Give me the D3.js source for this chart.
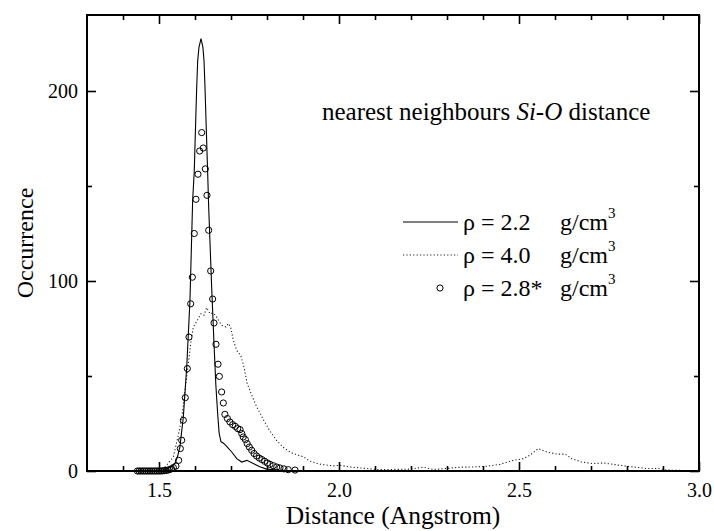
<!DOCTYPE html>
<html><head><meta charset="utf-8">
<script src="https://cdn.jsdelivr.net/npm/d3@7"></script>
<style>body{margin:0;background:#fff}svg{display:block}svg text{font-family:"Liberation Serif","DejaVu Serif",serif !important;fill:#000}</style>
</head><body><svg id="c" width="714" height="531"></svg>
<script>
// ρ = 2.2 g/cm3 (solid line)
const solidX = [1.44,1.50,1.52,1.535,1.544,1.552,1.558,1.5676,1.577,1.586,1.5935,1.598,1.602,1.6047,1.6075,1.611,1.6167,1.622,1.625,1.6278,1.6306,1.635,1.638,1.646,1.6528,1.658,1.663,1.667,1.672,1.68,1.688,1.702,1.716,1.73,1.744,1.762,1.78,1.799,1.83,1.8825];
const solidY = [0,0,0.8,2.5,3.9,8,12.6,28.4,54.7,89.8,142.5,158,184.6,202,216,223,227.6,223,216,202,184.6,158,139,98,67,45,30,20,15.5,14.5,13,10,6.5,4.7,5.6,3.9,2.2,1,0.5,0];
// ρ = 4.0 g/cm3 (dotted line)
const dotX = [1.50,1.5167,1.54,1.5565,1.5648,1.5722,1.5815,1.588,1.5953,1.6065,1.6167,1.625,1.6324,1.6417,1.6509,1.6602,1.674,1.686,1.6925,1.699,1.7064,1.7157,1.727,1.736,1.745,1.7575,1.771,1.79,1.8083,1.827,1.845,1.8639,1.8825,1.9,1.919,1.947,1.984,2.0028,2.03,2.077,2.105,2.15,2.197,2.234,2.262,2.299,2.336,2.373,2.41,2.447,2.484,2.512,2.53,2.5536,2.577,2.605,2.628,2.6465,2.674,2.706,2.734,2.762,2.79,2.8175,2.855,2.892,2.91,2.966];
const dotY = [0,2.1,7.4,21.4,30.2,42.5,56.5,67,75.8,79.3,82.8,82,86,82.8,83.2,81,76.7,75.8,77.6,75.8,68.8,63.5,60.9,54.7,46,40,34,27,21,16,12.5,10,8.5,7.6,5.2,3.6,2.7,3,2.1,1.3,0.8,0.8,1,2,0.8,1.3,2,2.1,2.5,3.5,5.6,6.5,8.3,11.8,10,8.9,8.9,6.5,4.7,3.9,4.2,3.5,2.8,2.1,1.3,1.3,0.5,0.2];
// ρ = 2.8* g/cm3 (open circles)
const circX = [1.44,1.445,1.45,1.455,1.46,1.465,1.47,1.475,1.48,1.485,1.49,1.495,1.50,1.505,1.51,1.515,1.52,1.525,1.53,1.535,1.54,1.547,1.5547,1.5593,1.563,1.5676,1.573,1.5787,1.5833,1.588,1.5926,1.598,1.6028,1.6083,1.613,1.6186,1.623,1.6287,1.6333,1.638,1.6436,1.649,1.6528,1.6583,1.6639,1.6676,1.674,1.6787,1.683,1.69,1.697,1.7047,1.712,1.7185,1.725,1.73,1.734,1.74,1.745,1.751,1.7575,1.764,1.771,1.7786,1.786,1.7936,1.801,1.8083,1.8175,1.827,1.836,1.847,1.859,1.8778];
const circY = [0,0,0,0,0,0,0,0,0,0,0,0,0,0,0.1,0.2,0.3,0.5,0.8,1.2,1.8,2.6,5.6,11.8,16.2,26.7,38.6,53.9,70.5,88,102,125,143,156.2,168.4,178.1,170,159,145.1,126.7,105.3,90.5,77.9,66.7,56.2,49.8,41.6,35.8,29.8,27.6,25.8,24.4,23.5,22.3,21.8,19.7,17.9,16.5,14.4,12.6,10.9,9.2,7.9,6.8,6,5.1,4.2,3.5,2.8,2.1,1.6,1.1,0.7,0.5];
const xMajor = [1.5,2.0,2.5,3.0];
const xMinor = [1.4,1.6,1.7,1.8,1.9,2.1,2.2,2.3,2.4,2.6,2.7,2.8,2.9];
const yMajor = [0,100,200];
const yMinor = [50,150];
const legendLabels = ["ρ = 2.2", "ρ = 4.0", "ρ = 2.8*"];

const FONT = '"Liberation Serif","DejaVu Serif",serif';
const svg = d3.select("#c");
const L=87, R=699, T=15, B=471;
const x = d3.scaleLinear().domain([1.3,3.0]).range([L,R]);
const y = d3.scaleLinear().domain([0,240]).range([B,T]);

const solid = solidX.map((d,i)=>[d,solidY[i]]);
const dotted = dotX.map((d,i)=>[d,dotY[i]]);
const circ = circX.map((d,i)=>[d,circY[i]]);
const line = d3.line().x(d=>x(d[0])).y(d=>y(d[1]));

svg.append("path").attr("d",line(dotted)).attr("fill","none").attr("stroke","#222").attr("stroke-width",1.1).attr("stroke-dasharray","1.2,2.2");
svg.append("path").attr("d",line(solid)).attr("fill","none").attr("stroke","#000").attr("stroke-width",1.1);
svg.selectAll("circle.pt").data(circ).join("circle").attr("class","pt")
  .attr("cx",d=>x(d[0])).attr("cy",d=>y(d[1])).attr("r",3.1)
  .attr("fill","none").attr("stroke","#000").attr("stroke-width",1);

// axes
function ax(gen, tr, vals, len){
  const g = svg.append("g").attr("transform",tr).call(gen.tickValues(vals).tickSizeInner(len).tickSizeOuter(0).tickFormat(""));
  g.select(".domain").remove();
  g.selectAll("line").attr("stroke","#000").attr("stroke-width",1.6);
  return g;
}
ax(d3.axisTop(x), `translate(0,${B})`, xMajor, 9);
ax(d3.axisTop(x), `translate(0,${B})`, xMinor, 5);
ax(d3.axisBottom(x), `translate(0,${T})`, xMajor, 9);
ax(d3.axisBottom(x), `translate(0,${T})`, xMinor, 5);
ax(d3.axisRight(y), `translate(${L},0)`, yMajor, 9);
ax(d3.axisRight(y), `translate(${L},0)`, yMinor, 5);
ax(d3.axisLeft(y), `translate(${R},0)`, yMajor, 9);
ax(d3.axisLeft(y), `translate(${R},0)`, yMinor, 5);
svg.append("rect").attr("x",L).attr("y",T).attr("width",R-L).attr("height",B-T)
  .attr("fill","none").attr("stroke","#000").attr("stroke-width",2);

// tick labels
const xl = d3.axisBottom(x).tickValues(xMajor).tickFormat(d3.format(".1f")).tickSize(0).tickPadding(12);
const gx = svg.append("g").attr("transform",`translate(0,${B})`).call(xl).attr("font-family",FONT).attr("font-size",20);
gx.select(".domain").remove();
gx.selectAll("text").attr("font-size",20);
const yl = d3.axisLeft(y).tickValues(yMajor).tickFormat(d3.format("d")).tickSize(0).tickPadding(9);
const gy = svg.append("g").attr("transform",`translate(${L},0)`).call(yl).attr("font-family",FONT).attr("font-size",20);
gy.select(".domain").remove();
gy.selectAll("text").attr("font-size",20);

// titles
svg.append("text").attr("x",(L+R)/2).attr("y",524).attr("text-anchor","middle").attr("font-family",FONT).attr("font-size",25.5).text("Distance (Angstrom)");
svg.append("text").attr("transform",`translate(33,${(T+B)/2}) rotate(-90)`).attr("text-anchor","middle").attr("font-family",FONT).attr("font-size",24).text("Occurrence");
const t = svg.append("text").attr("x",322).attr("y",120).attr("font-family",FONT).attr("font-size",25);
t.append("tspan").text("nearest neighbours ");
t.append("tspan").attr("font-style","italic").text("Si-O");
t.append("tspan").text(" distance");

// legend
const rows = [222,255,288];
svg.append("line").attr("x1",403).attr("x2",458).attr("y1",rows[0]).attr("y2",rows[0]).attr("stroke","#000").attr("stroke-width",1.1);
svg.append("line").attr("x1",403).attr("x2",458).attr("y1",rows[1]).attr("y2",rows[1]).attr("stroke","#222").attr("stroke-width",1.1).attr("stroke-dasharray","1.2,2.2");
svg.append("circle").attr("cx",440).attr("cy",rows[2]).attr("r",3.1).attr("fill","none").attr("stroke","#000").attr("stroke-width",1);
legendLabels.forEach((lab,i)=>{
  svg.append("text").attr("x",463).attr("y",rows[i]+8).attr("font-family",FONT).attr("font-size",24).text(lab);
  const g = svg.append("text").attr("x",560).attr("y",rows[i]+8).attr("font-family",FONT).attr("font-size",24);
  g.append("tspan").text("g/cm");
  g.append("tspan").attr("font-size",15).attr("dy",-12).text("3");
});
</script></body></html>
